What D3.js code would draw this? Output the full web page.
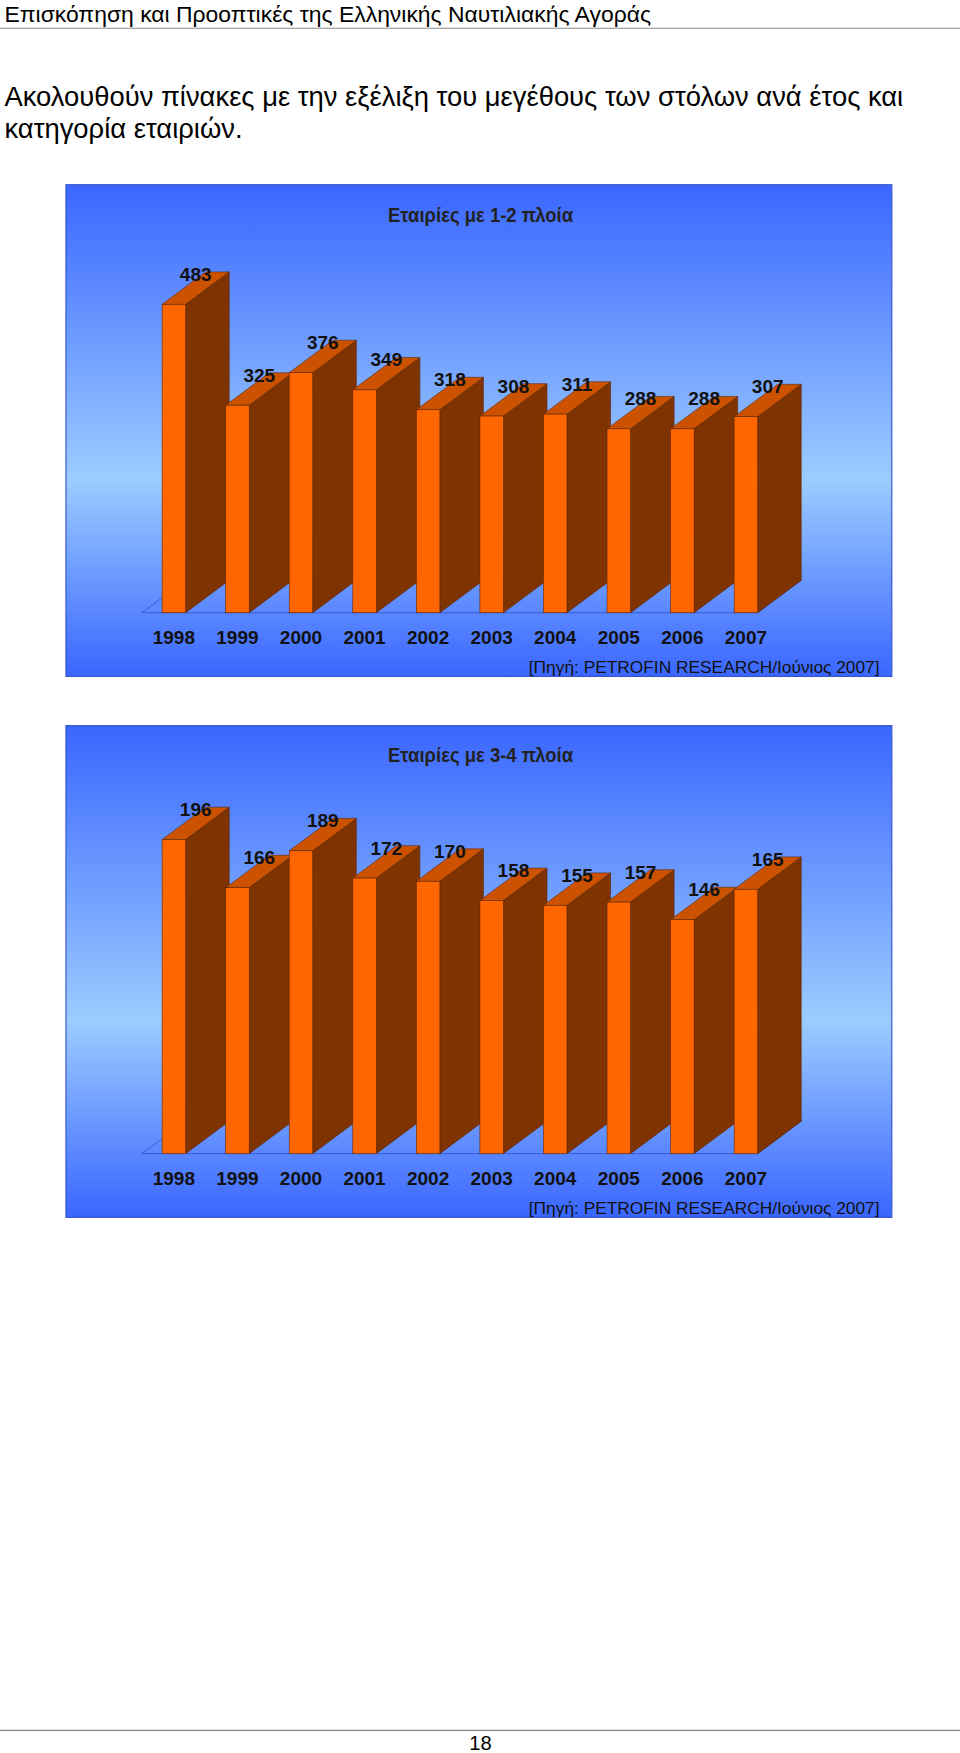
<!DOCTYPE html>
<html><head><meta charset="utf-8">
<script src="https://cdn.jsdelivr.net/npm/d3@7"></script>
<style>body{margin:0;background:#fff}svg{display:block;font-family:"Liberation Sans",Arial,sans-serif}</style>
</head><body>
<script>
const years = ["1998","1999","2000","2001","2002","2003","2004","2005","2006","2007"];
const fleet12 = [483,325,376,349,318,308,311,288,288,307];
const fleet34 = [196,166,189,172,170,158,155,157,146,165];
const titles = ["Εταιρίες με 1-2 πλοία","Εταιρίες με 3-4 πλοία"];
const source = "[Πηγή: PETROFIN RESEARCH/Ιούνιος 2007]";

const svg = d3.select("body").append("svg").attr("width",960).attr("height",1753).attr("viewBox","0 0 859 1568");
svg.append("text").attr("x",4).attr("y",19).attr("font-size",20.5).text("Επισκόπηση και Προοπτικές της Ελληνικής Ναυτιλιακής Αγοράς");
svg.append("line").attr("x1",0).attr("x2",859).attr("y1",25).attr("y2",25).attr("stroke","#888");
svg.append("text").attr("x",4).attr("y",95).attr("font-size",24.5).text("Ακολουθούν πίνακες με την εξέλιξη του μεγέθους των στόλων ανά έτος και");
svg.append("text").attr("x",4).attr("y",123).attr("font-size",24.5).text("κατηγορία εταιριών.");
svg.append("line").attr("x1",0).attr("x2",859).attr("y1",1548).attr("y2",1548).attr("stroke","#888");
svg.append("text").attr("x",430).attr("y",1566).attr("font-size",18).attr("text-anchor","middle").text("18");

const defs = svg.append("defs");
const g = defs.append("linearGradient").attr("id","bg").attr("x1",0).attr("y1",0).attr("x2",0).attr("y2",1);
[[0,"#3a66ff"],[0.6,"#9cccff"],[1,"#3a66ff"]].forEach(s=>g.append("stop").attr("offset",s[0]).attr("stop-color",s[1]));

function panel(top, values, title, yMax, topY){
  const gp = svg.append("g").attr("transform",`translate(0,${top})`);
  gp.append("rect").attr("x",59).attr("y",0).attr("width",739).attr("height",440).attr("fill","url(#bg)").attr("stroke","#3355cc");
  gp.append("text").attr("x",430).attr("y",33).attr("text-anchor","middle").attr("font-size",18).attr("font-weight","bold").attr("fill","#222").attr("transform","translate(430,0) scale(0.92,1) translate(-430,0)").text(title);
  const base = 383, dx = 39, dy = 29;
  const x = d3.scaleBand().domain(years).range([128,695]).paddingInner(0.63).paddingOuter(0.3);
  const y = d3.scaleLinear().domain([0,yMax]).range([base, topY]);
  gp.append("path").attr("d",`M127,${base}L${717-dx},${base}L717,${base-dy}L${127+dx},${base-dy}Z`).attr("fill","none").attr("stroke","#3355cc").attr("stroke-width",0.8);
  const bars = gp.selectAll("g.b").data(years.map((yr,i)=>({yr,v:values[i]}))).join("g");
  bars.each(function(d){
    const s=d3.select(this), x0=x(d.yr), w=x.bandwidth(), yt=y(d.v);
    s.append("path").attr("d",`M${x0+w},${yt}L${x0+w+dx},${yt-dy}L${x0+w+dx},${base-dy}L${x0+w},${base}Z`).attr("fill","#7f3300").attr("stroke","#5a2400").attr("stroke-width",0.5);
    s.append("path").attr("d",`M${x0},${yt}L${x0+dx},${yt-dy}L${x0+w+dx},${yt-dy}L${x0+w},${yt}Z`).attr("fill","#cc5200").attr("stroke","#5a2400").attr("stroke-width",0.5);
    s.append("rect").attr("x",x0).attr("y",yt).attr("width",w).attr("height",base-yt).attr("fill","#ff6600").attr("stroke","#5a2400").attr("stroke-width",0.5);
    s.append("text").attr("x",x0+w+9).attr("y",yt-21).attr("text-anchor","middle").attr("font-size",17).attr("font-weight","bold").attr("fill","#111").text(d.v);
    s.append("text").attr("x",x0+w/2).attr("y",411).attr("text-anchor","middle").attr("font-size",17).attr("font-weight","bold").attr("fill","#111").text(d.yr);
  });
  gp.append("text").attr("x",787).attr("y",437).attr("text-anchor","end").attr("font-size",15.5).attr("fill","#111").text(source);
}
panel(165, fleet12, titles[0], 483, 107);
panel(649, fleet34, titles[1], 196, 102);
</script>
</body></html>
